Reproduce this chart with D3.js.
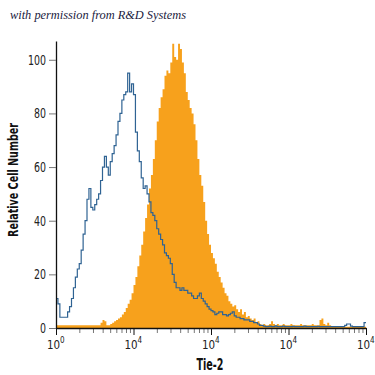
<!DOCTYPE html>
<html>
<head>
<meta charset="utf-8">
<script src="https://cdn.jsdelivr.net/npm/d3@7"></script>
<style>
  html, body { margin: 0; padding: 0; background: #fff; }
  #chart { width: 375px; height: 375px; }
  .narrow { font-family: 'Liberation Sans Narrow', 'DejaVu Sans Condensed', 'Roboto', sans-serif; font-stretch: condensed; }
</style>
</head>
<body>
<div id="chart"></div>
<script>
// histogram data, 160 bins of 0.025 decade each (10^0 .. 10^4)
const binWidth = 0.025;

// isotype control (blue outline)
const isotypeCounts = [
  11, 9, 4, 4, 4, 4, 6, 8, 11, 15,
  19, 22, 24, 29, 35, 40, 48, 52, 45, 44,
  46, 48, 50, 55, 60, 64, 60, 57, 62, 65,
  68, 72, 77, 80, 85, 87, 88, 95, 88, 91,
  87, 73, 66, 62, 56, 52, 53, 50, 47, 43,
  42, 40, 37, 35, 33, 31, 28, 27, 26, 24,
  20, 17, 15, 15, 14, 15, 14, 14, 13, 13,
  12, 11, 11, 12, 13, 11, 10, 9, 8, 7,
  6.5, 6, 5, 5.5, 6, 6, 5, 5, 4.5, 5,
  5.5, 6, 4.5, 4, 4, 3.5, 3.5, 3, 3, 3,
  2.5, 2.5, 2, 2, 1.5, 1, 1, 0.7, 0.5, 0.5,
  0.7, 0.5, 0.5, 0.8, 0.5, 0.5, 0.5, 0.7, 0.5, 0.5,
  0.5, 0.5, 0.6, 0.5, 0.5, 0.5, 0.5, 0.5, 0.7, 0.5,
  0.5, 0.5, 0.5, 0.5, 0.5, 0.6, 0.5, 0.5, 0.5, 0.5,
  0.5, 0.5, 0.5, 0.5, 0.5, 0.5, 0.5, 0.5, 0.5, 1,
  1.5, 1.5, 0.7, 0.5, 0.5, 0.5, 0.5, 0.5, 0.5, 2
];

// anti Tie-2 stained (orange fill)
const tie2Counts = [
  1, 1, 1, 1, 1, 1, 1, 1, 1, 1,
  1, 1, 1, 1, 1, 1, 1, 1, 1, 1,
  1, 1, 1, 2, 3, 2.5, 1, 1, 1.5, 2,
  2.5, 3, 3.5, 4, 5, 6, 7.5, 9, 10.5, 13,
  16, 19, 23, 27, 31, 36, 41, 46, 52, 57,
  63, 70, 77, 82, 86, 89, 94, 96, 95, 99,
  106, 101, 100, 106, 104, 99, 95, 88, 85, 82,
  80, 76, 70, 63, 57, 53, 47, 40, 35, 31,
  28, 26, 24, 21, 19, 17, 15, 13, 12, 10,
  9, 8, 8.5, 7, 6, 7, 5, 6, 4, 4.5,
  3.5, 3, 3.5, 2, 2.5, 1.5, 1, 1.5, 1, 1,
  1.5, 2.5, 1.5, 1, 1.5, 1, 1, 1.5, 1, 1,
  1, 1.5, 1, 1, 1, 1, 1.5, 1, 1, 1,
  1, 1, 1.5, 1, 1, 1, 3, 3.5, 1.5, 1,
  2, 1, 0.5, 0.5, 0.5, 0.5, 0.5, 0.5, 0.5, 0.5,
  0.5, 0.5, 0.5, 0.5, 0.5, 0.5, 0.5, 0.5, 0.5, 0.5
];

const yTicks = [0, 20, 40, 60, 80, 100];
const xMajorTicks = [1, 10, 100, 1000, 10000];
const xTickExponents = ['0', '4', '4', '4', '4'];

const titleText = 'with permission from R&D Systems';
const xLabel = 'Tie-2';
const yLabel = 'Relative Cell Number';

document.addEventListener('DOMContentLoaded', function() {
    const svg = d3.select('#chart').append('svg')
        .attr('width', 375)
        .attr('height', 375);

    const x = d3.scaleLog().domain([1, 1e4]).range([56, 366]);
    const y = d3.scaleLinear().domain([0, 107]).range([328, 41]).clamp(true);

    drawHistograms(svg, x, y);
    drawAxes(svg, x, y);
    drawLabels(svg);
});

function toPoints(counts) {
    const pts = counts.map((c, i) => ({ ch: Math.pow(10, i * binWidth), v: c }));
    pts.push({ ch: 1e4, v: counts[counts.length - 1] });
    return pts;
}

function drawHistograms(svg, x, y) {
    const area = d3.area()
        .x(d => x(d.ch))
        .y0(y(0))
        .y1(d => y(d.v))
        .curve(d3.curveStepAfter);

    svg.append('path')
        .datum(toPoints(tie2Counts))
        .attr('d', area)
        .attr('fill', '#f7a11c');

    const line = d3.line()
        .x(d => x(d.ch))
        .y(d => y(d.v))
        .curve(d3.curveStepAfter);

    svg.append('path')
        .datum(toPoints(isotypeCounts))
        .attr('d', line)
        .attr('fill', 'none')
        .attr('stroke', '#2f6393')
        .attr('stroke-width', 1.2);
}

function drawAxes(svg, x, y) {
    // y axis
    const yAxis = svg.append('g')
        .attr('transform', 'translate(56,0)')
        .call(d3.axisLeft(y).tickValues(yTicks).tickSize(7).tickSizeOuter(0));
    yAxis.select('.domain').attr('stroke', '#111').attr('stroke-width', 1.3);
    yAxis.selectAll('.tick line').attr('stroke', '#777');
    yAxis.selectAll('.tick text')
        .attr('class', 'narrow')
        .attr('x', -10)
        .attr('font-size', 14)
        .attr('fill', '#222')
        .attr('textLength', d => String(d).length * 6)
        .attr('lengthAdjust', 'spacingAndGlyphs');

    // x axis minor ticks
    const minor = [];
    for (let d = 1; d < 1e4; d *= 10) {
        for (let k = 2; k <= 9; k++) minor.push(d * k);
    }
    const xMinor = svg.append('g')
        .attr('transform', 'translate(0,328)')
        .call(d3.axisBottom(x).tickValues(minor).tickSize(5).tickFormat(''));
    xMinor.select('.domain').remove();
    xMinor.selectAll('.tick line').attr('stroke', '#777');

    const xAxis = svg.append('g')
        .attr('transform', 'translate(0,328)')
        .call(d3.axisBottom(x).tickValues(xMajorTicks).tickSize(7).tickSizeOuter(0).tickFormat(''));
    xAxis.select('.domain').attr('stroke', '#111').attr('stroke-width', 1.3);
    xAxis.selectAll('.tick line').attr('stroke', '#111');

    // 10^n labels: base and exponent as separate texts side by side
    const lbl = svg.append('g').selectAll('g')
        .data(xMajorTicks)
        .enter().append('g')
        .attr('transform', d => `translate(${x(d)},0)`);
    lbl.append('text')
        .attr('class', 'narrow')
        .attr('x', -9)
        .attr('y', 349)
        .attr('font-size', 11.5)
        .attr('fill', '#222')
        .text('10');
    lbl.append('text')
        .attr('class', 'narrow')
        .attr('x', 4)
        .attr('y', 343)
        .attr('font-size', 8)
        .attr('fill', '#222')
        .text((d, i) => xTickExponents[i]);
}

function drawLabels(svg) {
    svg.append('text')
        .attr('x', 10)
        .attr('y', 19)
        .attr('font-family', "'Liberation Serif', 'DejaVu Serif', serif")
        .attr('font-style', 'italic')
        .attr('font-size', 12)
        .attr('fill', '#1b1b40')
        .attr('textLength', 176)
        .attr('lengthAdjust', 'spacingAndGlyphs')
        .text(titleText);

    svg.append('text')
        .attr('class', 'narrow')
        .attr('x', 210)
        .attr('y', 370)
        .attr('text-anchor', 'middle')
        .attr('font-weight', 'bold')
        .attr('font-size', 16)
        .attr('fill', '#111')
        .attr('textLength', 27)
        .attr('lengthAdjust', 'spacingAndGlyphs')
        .text(xLabel);

    svg.append('text')
        .attr('class', 'narrow')
        .attr('transform', 'translate(18,180) rotate(-90)')
        .attr('text-anchor', 'middle')
        .attr('font-weight', 'bold')
        .attr('font-size', 14.5)
        .attr('fill', '#111')
        .attr('textLength', 114)
        .attr('lengthAdjust', 'spacingAndGlyphs')
        .text(yLabel);
}
</script>
</body>
</html>
